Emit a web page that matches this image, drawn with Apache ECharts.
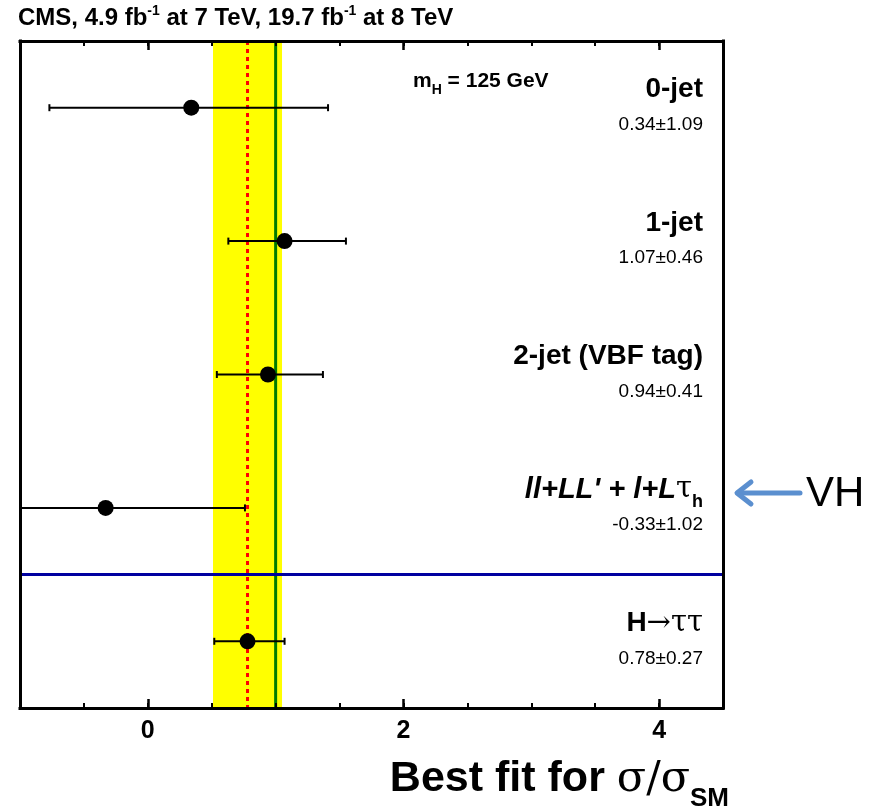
<!DOCTYPE html>
<html>
<head>
<meta charset="utf-8">
<script src="https://cdn.jsdelivr.net/npm/echarts@6/dist/echarts.min.js"></script>
<style>
html,body{margin:0;padding:0;background:#fff;}
#main{width:877px;height:812px;}
</style>
</head>
<body>
<div id="main"></div>
<script>
// ---- data ----
const X_MIN = -1, X_MAX = 4.5;
const Y_MIN = 0, Y_MAX = 5;
const categories = ['0-jet', '1-jet', '2-jet (VBF tag)', 'VH', 'H→ττ'];
const bestFit = [0.34, 1.07, 0.94, -0.33, 0.78];
const errLow = [-0.77, 0.63, 0.54, -1.35, 0.52];
const errHigh = [1.41, 1.55, 1.37, 0.76, 1.07];
const valueLabels = ['0.34±1.09', '1.07±0.46', '0.94±0.41', '-0.33±1.02', '0.78±0.27'];
const combined = 0.78;
const combinedBand = [0.51, 1.05];
const smValue = 1.0;
const separatorY = 1;            // boundary between VH row and combined row
const majorTicks = [0, 2, 4];

const FONT = "'Liberation Sans', Arial, Helvetica, sans-serif";
const rowY = i => Y_MAX - i - 0.5;

const nameRich = {
  n: {fontFamily: FONT, fontWeight: 'bold', fontSize: 28, color: '#000'},
  bi: {fontFamily: FONT, fontWeight: 'bold', fontStyle: 'italic', fontSize: 29, color: '#000'},
  t: {fontFamily: "'DejaVu Serif', serif", fontSize: 29, color: '#000'},
  s: {fontFamily: FONT, fontWeight: 'bold', fontSize: 18, lineHeight: 42, verticalAlign: 'bottom', color: '#000'}
};
const nameText = [
  '{n|0-jet}',
  '{n|1-jet}',
  '{n|2-jet (VBF tag)}',
  "{bi|ll+LL' + l+L}{t|τ}{s|h}",
  '{n|H}{t|→ττ}'
];

const chart = echarts.init(document.getElementById('main'));

const commonX = {type: 'value', min: X_MIN, max: X_MAX, interval: 0.5, splitLine: {show: false}, z: 10};
const frameLine = {show: true, onZero: false, lineStyle: {color: '#000', width: 3, cap: 'square'}};
const option = {
  animation: false,
  backgroundColor: '#fff',
  grid: {left: 20, right: 154, top: 41, bottom: 104, containLabel: false},
  xAxis: [
    Object.assign({}, commonX, {position: 'bottom',
      axisLine: frameLine,
      axisTick: {show: true, inside: true, length: 5, lineStyle: {color: '#000', width: 2}},
      axisLabel: {show: false}}),
    Object.assign({}, commonX, {position: 'bottom',
      axisLine: {show: false, onZero: false},
      axisTick: {show: true, inside: true, length: 9, customValues: majorTicks, lineStyle: {color: '#000', width: 2.5}},
      axisLabel: {show: true, customValues: majorTicks, margin: 11, fontFamily: FONT, fontWeight: 'bold', fontSize: 25, color: '#000'}}),
    Object.assign({}, commonX, {position: 'top',
      axisLine: frameLine,
      axisTick: {show: true, inside: true, length: 5, lineStyle: {color: '#000', width: 2}},
      axisLabel: {show: false}}),
    Object.assign({}, commonX, {position: 'top',
      axisLine: {show: false, onZero: false},
      axisTick: {show: true, inside: true, length: 9, customValues: majorTicks, lineStyle: {color: '#000', width: 2.5}},
      axisLabel: {show: false}})
  ],
  yAxis: [
    {type: 'value', min: Y_MIN, max: Y_MAX, position: 'left', z: 10,
      axisLine: frameLine,
      axisTick: {show: false}, axisLabel: {show: false}, splitLine: {show: false}},
    {type: 'value', min: Y_MIN, max: Y_MAX, position: 'right', z: 10,
      axisLine: frameLine,
      axisTick: {show: false}, axisLabel: {show: false}, splitLine: {show: false}}
  ],
  series: [
    { // combined band
      type: 'custom', z: 1, silent: true,
      data: [[combinedBand[0], combinedBand[1]]],
      renderItem: function (params, api) {
        const p1 = api.coord([api.value(0), Y_MAX]);
        const p2 = api.coord([api.value(1), Y_MIN]);
        return {type: 'rect', shape: {x: p1[0], y: p1[1], width: p2[0] - p1[0], height: p2[1] - p1[1]},
          style: {fill: '#ffff00'}};
      }
    },
    { // reference lines: combined (red dashed), SM (green), separator (blue)
      type: 'custom', z: 2, silent: true,
      data: [[0]],
      renderItem: function (params, api) {
        const c1 = api.coord([combined, Y_MAX]), c2 = api.coord([combined, Y_MIN]);
        const s1 = api.coord([smValue, Y_MAX]), s2 = api.coord([smValue, Y_MIN]);
        const b1 = api.coord([X_MIN, separatorY]), b2 = api.coord([X_MAX, separatorY]);
        return {type: 'group', children: [
          {type: 'line', shape: {x1: c1[0], y1: c1[1], x2: c2[0], y2: c2[1]},
            style: {stroke: '#ff0000', lineWidth: 3, lineDash: [4, 4]}},
          {type: 'line', shape: {x1: s1[0], y1: s1[1], x2: s2[0], y2: s2[1]},
            style: {stroke: '#007a00', lineWidth: 3}},
          {type: 'line', shape: {x1: b1[0], y1: b1[1], x2: b2[0], y2: b2[1]},
            style: {stroke: '#0000a0', lineWidth: 3}}
        ]};
      }
    },
    { // error bars
      type: 'custom', z: 3, silent: true,
      data: categories.map((c, i) => [errLow[i], errHigh[i], rowY(i)]),
      renderItem: function (params, api) {
        const lo = api.value(0), hi = api.value(1), y = api.value(2);
        const a = api.coord([Math.max(lo, X_MIN), y]);
        const b = api.coord([Math.min(hi, X_MAX), y]);
        const children = [{type: 'line', shape: {x1: a[0], y1: a[1], x2: b[0], y2: b[1]},
          style: {stroke: '#000', lineWidth: 2}}];
        if (lo >= X_MIN) children.push({type: 'line', shape: {x1: a[0], y1: a[1] - 3.5, x2: a[0], y2: a[1] + 3.5}, style: {stroke: '#000', lineWidth: 2}});
        if (hi <= X_MAX) children.push({type: 'line', shape: {x1: b[0], y1: b[1] - 3.5, x2: b[0], y2: b[1] + 3.5}, style: {stroke: '#000', lineWidth: 2}});
        return {type: 'group', children: children};
      }
    },
    { // best-fit points
      type: 'scatter', z: 4, silent: true,
      symbol: 'circle', symbolSize: 16,
      itemStyle: {color: '#000', opacity: 1},
      data: categories.map((c, i) => [bestFit[i], rowY(i)])
    },
    { // category labels
      type: 'custom', z: 5, silent: true,
      data: categories.map((c, i) => [X_MAX, rowY(i)]),
      renderItem: function (params, api) {
        const i = params.dataIndex;
        const p = api.coord([api.value(0), api.value(1)]);
        return {type: 'group', children: [
          {type: 'text', x: p[0] - 20, y: p[1] - 18,
            style: {text: nameText[i], rich: nameRich, align: 'right', verticalAlign: 'middle'}},
          {type: 'text', x: p[0] - 20, y: p[1] + 17,
            style: {text: valueLabels[i], fontFamily: FONT, fontSize: 19, fill: '#000', align: 'right', verticalAlign: 'middle'}}
        ]};
      }
    }
  ],
  graphic: [
    { type: 'text', left: 18, top: 4, z: 20,
      style: {
        text: '{a|CMS, 4.9 fb}{s|-1}{a| at 7 TeV, 19.7 fb}{s|-1}{a| at 8 TeV}',
        rich: {
          a: {fontFamily: FONT, fontWeight: 'bold', fontSize: 24, lineHeight: 29, color: '#000'},
          s: {fontFamily: FONT, fontWeight: 'bold', fontSize: 14, verticalAlign: 'top', color: '#000'}
        }
      }
    },
    { type: 'text', left: 413, top: 71, z: 20,
      style: {
        text: '{a|m}{s|H}{a| = 125 GeV}',
        rich: {
          a: {fontFamily: FONT, fontWeight: 'bold', fontSize: 21, color: '#000'},
          s: {fontFamily: FONT, fontWeight: 'bold', fontSize: 14, lineHeight: 31, verticalAlign: 'bottom', color: '#000'}
        }
      }
    },
    { type: 'text', right: 148, top: 758, z: 20,
      style: {
        text: '{a|Best fit for }{g|σ/σ}{s|SM}',
        rich: {
          a: {fontFamily: FONT, fontWeight: 'bold', fontSize: 43, color: '#000'},
          g: {fontFamily: "'DejaVu Serif', serif", fontSize: 43, color: '#000'},
          s: {fontFamily: FONT, fontWeight: 'bold', fontSize: 26, lineHeight: 64, verticalAlign: 'bottom', color: '#000'}
        }
      }
    },
    { type: 'polyline', z: 20, silent: true,
      shape: {points: [[800, 493], [738, 493]]},
      style: {stroke: '#5b8fcf', lineWidth: 5, lineCap: 'round'}
    },
    { type: 'polyline', z: 20, silent: true,
      shape: {points: [[751, 482], [737, 493], [751, 504]]},
      style: {stroke: '#5b8fcf', lineWidth: 5, lineCap: 'round', lineJoin: 'round', fill: null}
    },
    { type: 'text', left: 806, top: 473, z: 20,
      style: {text: 'VH', fontFamily: FONT, fontSize: 42, fill: '#000'}
    }
  ]
};
chart.setOption(option);
</script>
</body>
</html>
